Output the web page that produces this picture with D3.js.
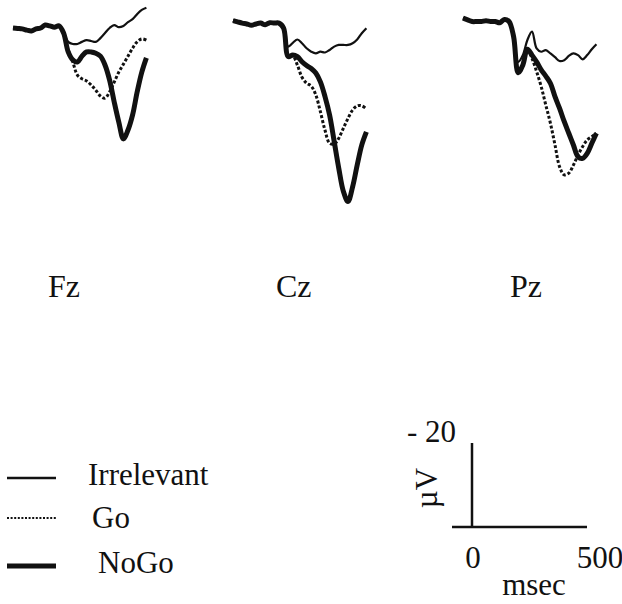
<!DOCTYPE html>
<html>
<head>
<meta charset="utf-8">
<script src="https://cdn.jsdelivr.net/npm/d3@7"></script>
<style>
  body { margin: 0; background: #fff; }
</style>
</head>
<body>
<div id="chart"></div>
<script>
// time points (ms) shared by every waveform
const times = [-100, -80, -60, -40, -20, 0, 20, 40, 60, 80, 100, 120, 140, 160, 180,
  200, 220, 240, 260, 280, 300, 320, 340, 360, 380, 400, 420, 440, 460, 480];

const electrodes = ["Fz", "Cz", "Pz"];
const conditions = ["Irrelevant", "Go", "NoGo"];

// amplitudes in microvolts (positive drawn downward)
const fzIrrelevant = [0, 0.1, 0.2, 0.5, 0.7, 0.2, 0, -0.7, -0.5, -0.2, -0.5,
  1.0, 3.3, 3.8, 3.8, 3.3, 2.9, 3.1, 3.3, 2.4, 1.2, 0, -0.7, -0.2, -0.5, -1.4, -2.1, -3.3, -4.3, -4.8];
const fzGo = [0, 0.1, 0.2, 0.5, 0.7, 0.2, 0, -0.7, -0.5, -0.2, -0.5,
  1.4, 5.2, 8.1, 11.2, 12.1, 12.6, 13.6, 14.8, 16.2, 16.7, 15.2, 12.9, 10.5, 8.6, 6.7, 4.8, 3.3, 2.6, 2.9];
const fzNoGo = [0, 0.1, 0.2, 0.5, 0.7, 0.2, 0, -0.7, -0.5, -0.2, -0.5,
  1.2, 5.7, 7.6, 8.1, 6.7, 5.7, 5.7, 6.0, 6.7, 8.8, 12.4, 17.6, 22.4, 26.4, 24.3, 20.7, 15.2, 10.5, 7.1];

const czIrrelevant = [-0.1, 0.2, 0.5, 0.7, 1.0, 0.7, 0.5, 0.9, 0.4, 0.5, 0.5,
  1.4, 6.1, 5.2, 4.4, 5.3, 6.5, 7.3, 7.7, 7.3, 7.5, 6.9, 6.1, 5.7, 5.7, 5.7, 5.3, 4.4, 2.9, 1.7];
const czGo = [-0.1, 0.2, 0.5, 0.7, 1.0, 0.7, 0.5, 0.9, 0.4, 0.5, 0.5,
  1.6, 8.3, 8.3, 10.5, 13.4, 14.8, 15.5, 17.6, 21.6, 26.0, 29.1, 29.3, 27.9, 25.5, 23.2, 21.2, 20.2, 20.2, 20.9];
const czNoGo = [-0.1, 0.2, 0.5, 0.7, 1.0, 0.7, 0.5, 0.9, 0.4, 0.5, 0.5,
  1.7, 8.5, 8.1, 8.5, 9.7, 10.6, 11.3, 12.4, 14.5, 18.0, 22.4, 28.7, 35.1, 40.6, 43.0, 39.5, 34.3, 29.5, 26.4];

const pzIrrelevant = [-0.2, 0.2, 0.6, 0.6, 0.6, 0.4, 0.6, 0.6, 0.9, 0.1, 0.6,
  4.2, 10.2, 8.6, 5.0, 3.0, 7.0, 7.8, 7.4, 8.2, 9.1, 10.0, 9.8, 8.8, 8.2, 8.6, 9.6, 8.6, 7.2, 6.0];
const pzGo = [-0.2, 0.2, 0.6, 0.6, 0.6, 0.4, 0.6, 0.6, 0.9, 0.1, 0.6,
  4.2, 12.5, 11.0, 7.2, 9.4, 12.5, 16.1, 20.5, 24.8, 30.0, 35.2, 37.1, 36.7, 34.8, 32.4, 30.4, 28.8, 28.0, 27.2];
const pzNoGo = [-0.2, 0.2, 0.6, 0.6, 0.6, 0.4, 0.6, 0.6, 0.9, 0.1, 0.6,
  4.2, 12.8, 11.0, 7.2, 8.6, 10.2, 12.1, 13.6, 15.3, 18.5, 21.3, 24.4, 27.2, 30.0, 32.8, 33.2, 32.0, 29.6, 27.2];

const waves = {
  Fz: [fzIrrelevant, fzGo, fzNoGo],
  Cz: [czIrrelevant, czGo, czNoGo],
  Pz: [pzIrrelevant, pzGo, pzNoGo]
};

// scale bar values
const barTimes = [0, 500];
const barVolt = -20;

const width = 622, height = 604;
const pxPerMs = 0.23, pxPerUv = 4.2;
const serif = "'Liberation Serif', 'Times New Roman', Times, 'DejaVu Serif', serif";

// panel placement
const panelX = { Fz: 13, Cz: 233, Pz: 463 };
const panelY = { Fz: 28, Cz: 21, Pz: 19 };
const labelX = { Fz: 48, Cz: 276, Pz: 510 };

const styles = {
  Irrelevant: { w: 2.2, dash: null },
  Go: { w: 3, dash: "3,2" },
  NoGo: { w: 5, dash: null }
};

const svg = d3.select("#chart").append("svg")
  .attr("width", width)
  .attr("height", height);

function label(x, y, s) {
  return svg.append("text")
    .attr("x", x)
    .attr("y", y)
    .attr("font-family", serif)
    .attr("font-size", 31)
    .attr("fill", "#111")
    .text(s);
}

electrodes.forEach(el => {
  const x = d3.scaleLinear()
    .domain([times[0], times[times.length - 1]])
    .range([panelX[el], panelX[el] + (times[times.length - 1] - times[0]) * pxPerMs]);
  const y = d3.scaleLinear()
    .domain([0, 20])
    .range([panelY[el], panelY[el] + 20 * pxPerUv]);

  const line = d3.line()
    .x((d, i) => x(times[i]))
    .y(d => y(d))
    .curve(d3.curveCatmullRom.alpha(0.5));

  const g = svg.append("g");
  conditions.forEach((c, k) => {
    g.append("path")
      .attr("d", line(waves[el][k]))
      .attr("fill", "none")
      .attr("stroke", "#111")
      .attr("stroke-width", styles[c].w)
      .attr("stroke-dasharray", styles[c].dash)
      .attr("stroke-linejoin", "round");
  });

  label(labelX[el], 297, el).attr("font-size", 32);
});

// legend
const legendY = [478, 518, 566];
const legendTextX = [88, 92, 98];
const legendTextY = [485, 528, 573];
conditions.forEach((c, k) => {
  svg.append("line")
    .attr("x1", 7).attr("x2", 56)
    .attr("y1", legendY[k]).attr("y2", legendY[k])
    .attr("stroke", "#111")
    .attr("stroke-width", c === "Irrelevant" ? 2.5 : c === "Go" ? 2.2 : 5)
    .attr("stroke-dasharray", c === "Go" ? "2,1.6" : null);
  label(legendTextX[k], legendTextY[k], c);
});

// calibration bar
const xBar = d3.scaleLinear().domain(barTimes).range([472, 472 + 500 * pxPerMs]);
const yBar = d3.scaleLinear().domain([0, barVolt]).range([527, 527 - 20 * pxPerUv]);

svg.append("line")
  .attr("x1", xBar(0)).attr("x2", xBar(0))
  .attr("y1", yBar(0)).attr("y2", yBar(barVolt))
  .attr("stroke", "#111").attr("stroke-width", 2.5);
svg.append("line")
  .attr("x1", xBar(0) - 20).attr("x2", xBar(500))
  .attr("y1", yBar(0)).attr("y2", yBar(0))
  .attr("stroke", "#111").attr("stroke-width", 2.5);

label(407, yBar(barVolt) - 1, "- 20");

label(0, 0, "µV")
  .attr("x", null).attr("y", null)
  .attr("transform", `translate(437,${(yBar(0) + yBar(barVolt)) / 2 + 3}) rotate(-90)`)
  .attr("text-anchor", "middle");

barTimes.forEach((d, i) => {
  label(xBar(d) + (i === 0 ? 1 : 13), 568, d).attr("text-anchor", "middle");
});

label(534, 595, "msec").attr("text-anchor", "middle");
</script>
</body>
</html>
